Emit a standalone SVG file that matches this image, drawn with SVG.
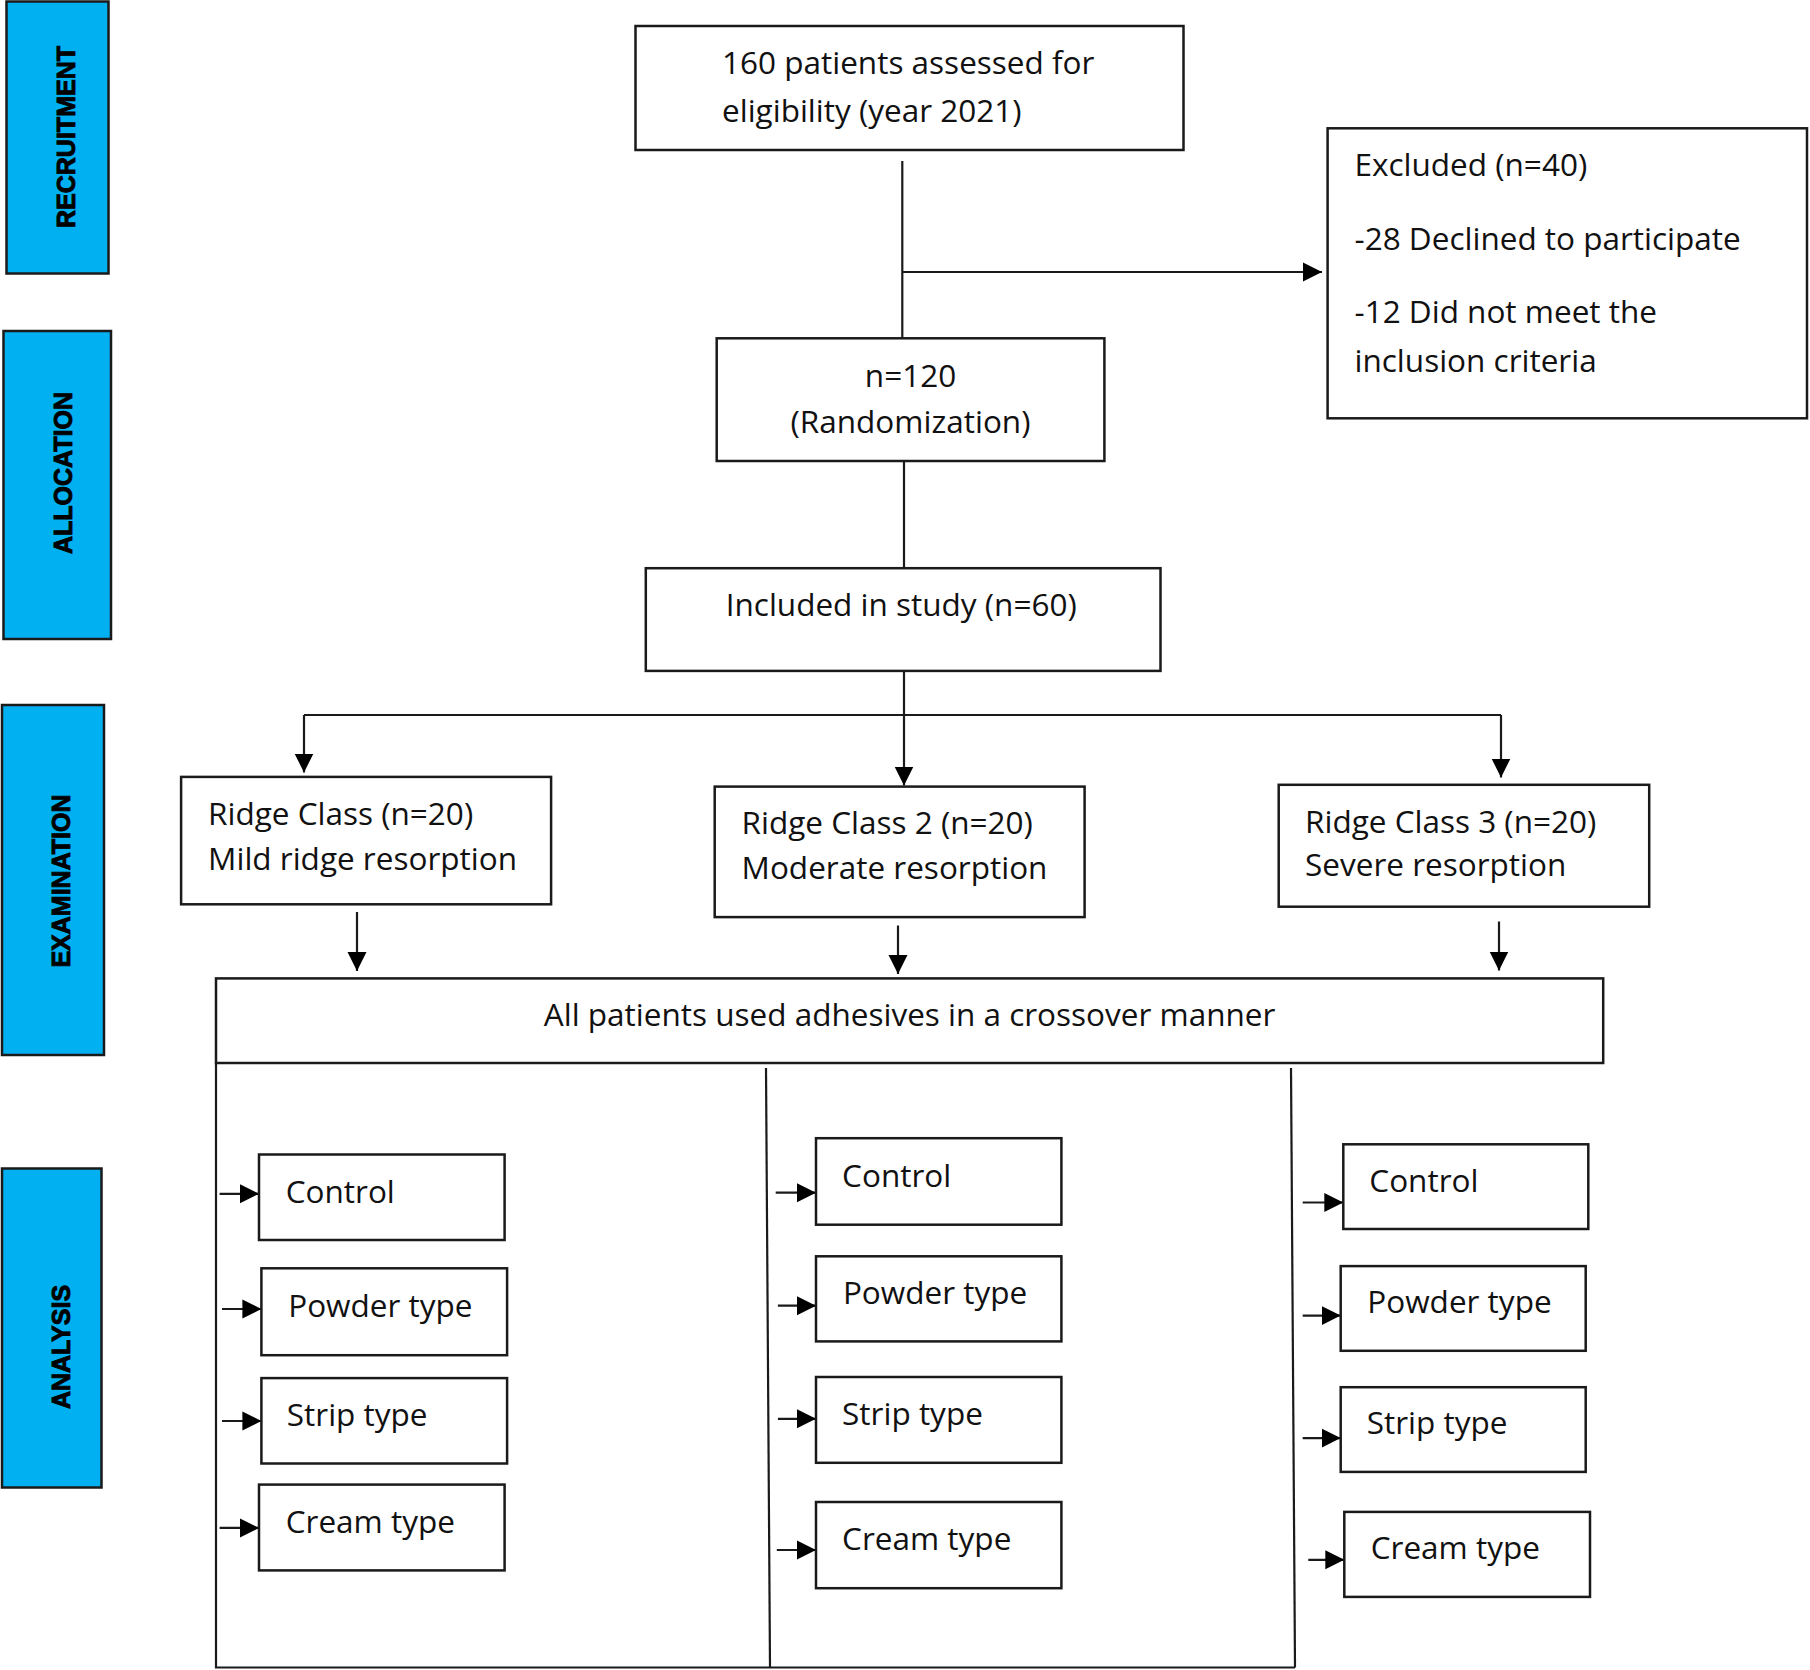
<svg xmlns="http://www.w3.org/2000/svg" width="1810" height="1670" viewBox="0 0 1810 1670">
<defs>
<marker id="arr" markerUnits="userSpaceOnUse" markerWidth="20" markerHeight="20" viewBox="0 0 20 20" refX="19" refY="10" orient="auto">
<path d="M0,0.5 L19,10 L0,19.5 z" fill="#000"/>
</marker>
<style>
.bar{fill:#00B0F0;stroke:#1a1a1a;stroke-width:2.5}
.bt{font-family:"Liberation Sans",Arial,sans-serif;font-weight:bold;font-size:25px;fill:#000;stroke:#000;stroke-width:0.9;text-anchor:middle}
.box{fill:#fff;stroke:#1a1a1a;stroke-width:2.5}
.t{font-family:"Open Sans","Noto Sans",sans-serif;font-size:31.5px;fill:#111}
.c{text-anchor:middle}
.ln{fill:none;stroke:#1a1a1a;stroke-width:2.2}
.ar{fill:none;stroke:#1a1a1a;stroke-width:2.2;marker-end:url(#arr)}
</style>
</defs>
<rect width="1810" height="1670" fill="#fff"/>

<g id="bar-recruitment"><rect class="bar" x="6.5" y="1.5" width="102" height="272"/><text class="bt" transform="translate(75,137) rotate(-90)">RECRUITMENT</text></g>
<g id="bar-allocation"><rect class="bar" x="3.5" y="331" width="107.5" height="308"/><text class="bt" transform="translate(71.5,473) rotate(-90)">ALLOCATION</text></g>
<g id="bar-examination"><rect class="bar" x="2" y="705" width="102" height="350"/><text class="bt" transform="translate(70,881) rotate(-90)">EXAMINATION</text></g>
<g id="bar-analysis"><rect class="bar" x="2" y="1168.5" width="99.5" height="319"/><text class="bt" transform="translate(69.5,1347) rotate(-90)">ANALYSIS</text></g>

<g id="connectors">
<path class="ln" d="M902.3,161 V338"/>
<path class="ar" d="M902.3,272 H1322"/>
<path class="ln" d="M904,461 V568"/>
<path class="ar" d="M904,671 V785.5"/>
<path class="ln" d="M304,715 H1501"/>
<path class="ar" d="M304,715 V772.5"/>
<path class="ar" d="M1501,715 V777.5"/>
<path class="ar" d="M357,912 V971"/>
<path class="ar" d="M898,925.5 V974"/>
<path class="ar" d="M1499,921.5 V970.5"/>
<path class="ln" d="M216,1063 V1667.5 H1295"/>
<path class="ln" d="M766,1068 L770,1667.5"/>
<path class="ln" d="M1291,1068 L1295,1667.5"/>
<path class="ar" d="M219.6,1193.8 H259"/>
<path class="ar" d="M222,1309 H261.4"/>
<path class="ar" d="M222,1421 H261.4"/>
<path class="ar" d="M219.6,1527.9 H259"/>
<path class="ar" d="M775.7,1192.7 H816"/>
<path class="ar" d="M777.9,1305.7 H816"/>
<path class="ar" d="M777.9,1418.8 H816"/>
<path class="ar" d="M776.8,1550 H816"/>
<path class="ar" d="M1302.7,1202.5 H1343.3"/>
<path class="ar" d="M1302.7,1315.6 H1340.7"/>
<path class="ar" d="M1302.7,1438.1 H1340.7"/>
<path class="ar" d="M1308.3,1559.8 H1344.3"/>
</g>

<g id="assessed"><rect class="box" x="635.5" y="26" width="548" height="124"/><text class="t" x="722" y="74">160 patients assessed for</text><text class="t" x="722" y="121.5">eligibility (year 2021)</text></g>
<g id="excluded"><rect class="box" x="1327.6" y="128.3" width="479.4" height="290"/><text class="t" x="1354.5" y="176">Excluded (n=40)</text><text class="t" x="1354.5" y="250">-28 Declined to participate</text><text class="t" x="1354.5" y="323.3">-12 Did not meet the</text><text class="t" x="1354.5" y="371.7">inclusion criteria</text></g>
<g id="randomization"><rect class="box" x="716.7" y="338.3" width="387.7" height="122.7"/><text class="t c" x="910.5" y="386.7">n=120</text><text class="t c" x="910.5" y="433.3">(Randomization)</text></g>
<g id="included"><rect class="box" x="645.8" y="568.2" width="514.7" height="102.7"/><text class="t" x="725.7" y="616.4">Included in study (n=60)</text></g>
<g id="ridge1"><rect class="box" x="181.1" y="776.9" width="370" height="127.4"/><text class="t" x="208.1" y="825.1">Ridge Class (n=20)</text><text class="t" x="208.1" y="869.9">Mild ridge resorption</text></g>
<g id="ridge2"><rect class="box" x="714.7" y="786.6" width="369.9" height="130.5"/><text class="t" x="741.6" y="834.4">Ridge Class 2 (n=20)</text><text class="t" x="741.6" y="879.2">Moderate resorption</text></g>
<g id="ridge3"><rect class="box" x="1278.7" y="784.8" width="370.5" height="121.9"/><text class="t" x="1305" y="832.7">Ridge Class 3 (n=20)</text><text class="t" x="1305" y="875.7">Severe resorption</text></g>
<g id="crossover"><rect class="box" x="216" y="978.4" width="1387.2" height="84.6"/><text class="t c" x="909.6" y="1025.5">All patients used adhesives in a crossover manner</text></g>

<g id="c1-control"><rect class="box" x="259" y="1154.5" width="245.6" height="85.5"/><text class="t" x="285.7" y="1202.5">Control</text></g>
<g id="c1-powder"><rect class="box" x="261.4" y="1268.3" width="245.7" height="86.9"/><text class="t" x="288.2" y="1317.4">Powder type</text></g>
<g id="c1-strip"><rect class="box" x="261.4" y="1378.1" width="245.7" height="85.4"/><text class="t" x="286.8" y="1426.4">Strip type</text></g>
<g id="c1-cream"><rect class="box" x="259" y="1484.6" width="245.6" height="85.8"/><text class="t" x="285.7" y="1532.6">Cream type</text></g>

<g id="c2-control"><rect class="box" x="816" y="1138.2" width="245.4" height="86.5"/><text class="t" x="842.1" y="1187.2">Control</text></g>
<g id="c2-powder"><rect class="box" x="816" y="1256.3" width="245.4" height="85.1"/><text class="t" x="842.9" y="1304.3">Powder type</text></g>
<g id="c2-strip"><rect class="box" x="816" y="1377" width="245.4" height="85.8"/><text class="t" x="842.1" y="1424.6">Strip type</text></g>
<g id="c2-cream"><rect class="box" x="816" y="1502" width="245.4" height="86.2"/><text class="t" x="842.1" y="1550">Cream type</text></g>

<g id="c3-control"><rect class="box" x="1343.3" y="1144.3" width="245" height="84.7"/><text class="t" x="1369.3" y="1191.6">Control</text></g>
<g id="c3-powder"><rect class="box" x="1340.7" y="1266.1" width="245" height="84.7"/><text class="t" x="1367.3" y="1312.7">Powder type</text></g>
<g id="c3-strip"><rect class="box" x="1340.7" y="1387.2" width="245" height="84.7"/><text class="t" x="1366.7" y="1433.7">Strip type</text></g>
<g id="c3-cream"><rect class="box" x="1344.3" y="1511.9" width="245.7" height="85"/><text class="t" x="1370.7" y="1558.7">Cream type</text></g>
</svg>
